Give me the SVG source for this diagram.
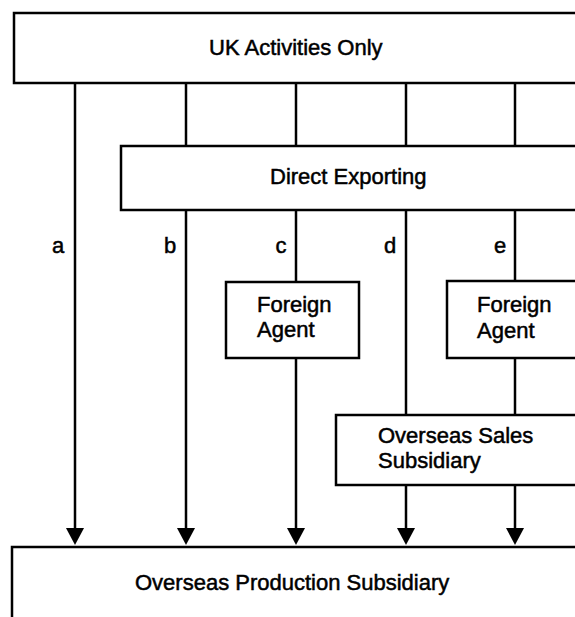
<svg xmlns="http://www.w3.org/2000/svg" width="575" height="617" viewBox="0 0 575 617">
  <style>
    .box { fill: #fff; stroke: #000; stroke-width: 2.5; }
    .lbl { font-family: "Liberation Sans", Arial, sans-serif; font-size: 22px; fill: #000; stroke: #000; stroke-width: 0.5; }
    .mid { text-anchor: middle; }
    .wire { stroke: #000; stroke-width: 2.5; fill: none; }
    .flow { marker-end: url(#arrow); }
  </style>
  <defs>
    <!-- solid arrowhead, 18 wide x 17 long; the line stops 13px short of the tip -->
    <marker id="arrow" markerUnits="userSpaceOnUse" markerWidth="18" markerHeight="18" refX="4" refY="9" orient="auto" viewBox="0 0 18 18">
      <path d="M0,0 L17,9 L0,18 Z" fill="#000"/>
    </marker>
  </defs>
  <rect width="575" height="617" fill="#fff"/>

  <!-- connectors -->
  <g id="connectors" class="wire">
    <!-- a: straight to production -->
    <line class="flow" x1="75" y1="83" x2="75" y2="532"/>
    <!-- b -->
    <line x1="186" y1="83" x2="186" y2="146"/>
    <line class="flow" x1="186" y1="210" x2="186" y2="532"/>
    <!-- c -->
    <line x1="296" y1="83" x2="296" y2="146"/>
    <line x1="296" y1="210" x2="296" y2="282"/>
    <line class="flow" x1="296" y1="358" x2="296" y2="532"/>
    <!-- d -->
    <line x1="406" y1="83" x2="406" y2="146"/>
    <line x1="406" y1="210" x2="406" y2="415"/>
    <line class="flow" x1="406" y1="485" x2="406" y2="532"/>
    <!-- e -->
    <line x1="515" y1="83" x2="515" y2="146"/>
    <line x1="515" y1="210" x2="515" y2="281"/>
    <line x1="515" y1="358" x2="515" y2="415"/>
    <line class="flow" x1="515" y1="485" x2="515" y2="532"/>
  </g>

  <!-- route labels -->
  <g id="route-labels" class="lbl mid">
    <text x="58" y="253">a</text>
    <text x="170" y="253">b</text>
    <text x="281" y="253">c</text>
    <text x="390" y="253">d</text>
    <text x="500" y="253">e</text>
  </g>

  <g id="uk-activities">
    <rect class="box" x="14" y="13" width="580" height="70"/>
    <text class="lbl" x="209" y="55">UK Activities Only</text>
  </g>

  <g id="direct-exporting">
    <rect class="box" x="121" y="146" width="470" height="64"/>
    <text class="lbl" x="270" y="184">Direct Exporting</text>
  </g>

  <g id="foreign-agent-1">
    <rect class="box" x="226" y="282" width="133" height="76"/>
    <text class="lbl" x="257" y="312">Foreign</text>
    <text class="lbl" x="257" y="337">Agent</text>
  </g>

  <g id="foreign-agent-2">
    <rect class="box" x="447" y="281" width="140" height="77"/>
    <text class="lbl" x="477" y="312">Foreign</text>
    <text class="lbl" x="477" y="338">Agent</text>
  </g>

  <g id="overseas-sales">
    <rect class="box" x="336" y="415" width="260" height="70"/>
    <text class="lbl" x="378" y="443">Overseas Sales</text>
    <text class="lbl" x="378" y="468">Subsidiary</text>
  </g>

  <g id="overseas-production">
    <rect class="box" x="12" y="547" width="590" height="100"/>
    <text class="lbl" x="135" y="590">Overseas Production Subsidiary</text>
  </g>
</svg>
